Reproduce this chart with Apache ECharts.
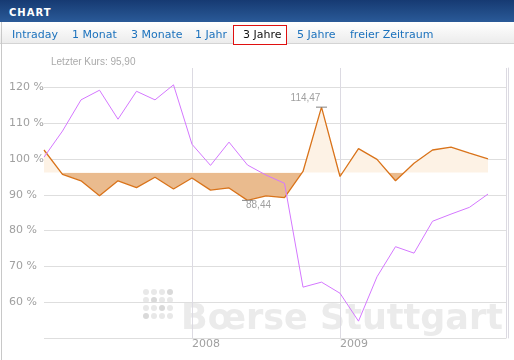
<!DOCTYPE html>
<html>
<head>
<meta charset="utf-8">
<script src="https://cdn.jsdelivr.net/npm/echarts@6/dist/echarts.min.js"></script>
<style>
  html, body { margin:0; padding:0; background:#fff; }
  #wrap { position:relative; width:514px; height:360px; overflow:hidden; }
  #chart { position:absolute; left:0; top:0; width:514px; height:360px; }
  #hdr { position:absolute; left:0; top:0; width:514px; height:22px;
         background:linear-gradient(to bottom, #163a72, #2a5a98); }
  #hdr span { position:absolute; left:9px; top:7px; color:#fff; font:bold 10px "DejaVu Sans"; letter-spacing:1px; }
  #tabs { position:absolute; left:0; top:22px; width:514px; height:21px;
          background:linear-gradient(to bottom, #ffffff, #ececec); border-bottom:1px solid #d4d4d4; }
  #tabs span { position:absolute; top:6px; font:11px "DejaVu Sans"; color:#1c72bd; white-space:nowrap; }
  #tabs span.sel { color:#111; }
  #selbox { position:absolute; left:233px; top:25px; width:52px; height:18px; border:1px solid #e01010; background:#fff; }
  #lb { position:absolute; left:1px; top:22px; width:1px; height:338px; background:#c8c8c8; }
</style>
</head>
<body>
<div id="wrap">
  <div id="chart"></div>
  <div id="hdr"><span>CHART</span></div>
  <div id="tabs"></div>
  <div id="lb"></div>
</div>
<script>
// ---- data ----
const categories = ['01.01.2007','15.02.2007','01.04.2007','15.05.2007','01.07.2007','15.08.2007','01.10.2007','15.11.2007',
  '01.01.2008','15.02.2008','01.04.2008','15.05.2008','01.07.2008','15.08.2008','01.10.2008','15.11.2008',
  '01.01.2009','15.02.2009','01.04.2009','15.05.2009','01.07.2009','15.08.2009','01.10.2009','15.11.2009',
  '01.01.2010','15.02.2010'];
const yearLabels = {'01.01.2008':'2008','01.01.2009':'2009'};
const stockValues = [102.5, 95.7, 93.9, 89.7, 93.9, 92.0, 94.9, 91.6, 94.7, 91.3, 91.9, 88.44, 89.7, 89.2, 96.5, 114.47, 95.1, 102.9, 99.9, 93.9, 98.8, 102.5, 103.3, 101.6, 100.0];
const indexValues = [100.5, 107.8, 116.5, 119.2, 111.1, 118.9, 116.5, 120.7, 104.1, 98.2, 104.7, 98.3, 95.5, 93.2, 64.2, 65.6, 62.5, 54.7, 67.1, 75.5, 73.7, 82.6, 84.6, 86.5, 90.2];
const baseLevel = 96.2;
const yTicks = [60, 70, 80, 90, 100, 110, 120];
const lastPrice = 'Letzter Kurs: 95,90';
const tabNames = ['Intraday','1 Monat','3 Monate','1 Jahr','3 Jahre','5 Jahre','freier Zeitraum'];
const selectedTab = '3 Jahre';

// ---- header tabs ----
const tabX = [12, 72, 131, 195, 243, 297, 350];
const tabsEl = document.getElementById('tabs');
const box = document.createElement('div'); box.id = 'selbox'; box.style.top = '3px'; tabsEl.appendChild(box);
tabNames.forEach((t, i) => {
  const s = document.createElement('span');
  s.textContent = t; s.style.left = tabX[i] + 'px';
  if (t === selectedTab) s.className = 'sel';
  tabsEl.appendChild(s);
});

// ---- chart ----
const chart = echarts.init(document.getElementById('chart'), null, {renderer: 'canvas'});
const splitIdx = categories.map((c, i) => (yearLabels[c] || i === categories.length - 1) ? i : -1).filter(i => i >= 0);
const yMin = 50, yMax = 125.4;
const gridColors = [];
for (let v = yMin; v <= yMax; v += 10) gridColors.push('#dedede');
gridColors.push('rgba(0,0,0,0)');

const dots = [];
const dark = {'0,3':1,'1,1':1,'2,2':1,'3,0':1};
for (let r = 0; r < 4; r++) for (let c = 0; c < 4; c++) {
  dots.push({type:'circle', z:-1, silent:true, shape:{cx:146 + c*8, cy:292 + r*8, r:3},
    style:{fill: dark[r+','+c] ? '#d9d9d9' : '#e8e8e8'}});
}

const fmt = v => v.toFixed(2).replace('.', ',');

chart.setOption({
  animation: false,
  title: { text: lastPrice, left: 46, top: 52,
    textStyle: { fontSize: 10, fontWeight: 'normal', color: '#aaaaaa', fontFamily: 'Liberation Sans, Arial' } },
  grid: { left: 44, right: 7.5, top: 68, bottom: 22, containLabel: false },
  graphic: [
    ...dots,
    { type:'text', z:-1, silent:true, left:181, top:302,
      style:{ text:'Bœrse Stuttgart', font:'bold 35px "DejaVu Sans"', fill:'#ebebeb' } }
  ],
  visualMap: {
    show: false, type: 'piecewise', seriesIndex: 0, dimension: 1,
    pieces: [ { gte: 40, lt: baseLevel, color: '#eabb8e' }, { gte: baseLevel, lte: 140, color: '#fdf2e5' } ]
  },
  xAxis: {
    type: 'category', data: categories, boundaryGap: false,
    axisLine: { show: false }, axisTick: { show: false },
    axisLabel: {
      interval: (i, v) => !!yearLabels[v],
      formatter: v => yearLabels[v] || '',
      align: 'left', margin: 1, color: '#a0a0a0', fontSize: 11, fontFamily: 'DejaVu Sans'
    },
    splitLine: { show: true, interval: (i) => splitIdx.indexOf(i) >= 0, lineStyle: { color: '#dcdae2', width: 1 } }
  },
  yAxis: [{
    type: 'value', min: yMin, max: yMax, interval: 10,
    axisLine: { show: false }, axisTick: { show: false },
    axisLabel: { formatter: v => yTicks.indexOf(v) >= 0 ? v + ' %' : '', align: 'left', margin: 35,
      color: '#a0a0a0', fontSize: 11, fontFamily: 'DejaVu Sans' },
    splitLine: { lineStyle: { color: gridColors, width: 1 } }
  }, {
    type: 'value', min: yMin, max: yMax, interval: 10, position: 'right', offset: 2,
    axisLine: { show: true, lineStyle: { color: '#dcdae2' } }, axisTick: { show: false },
    axisLabel: { show: false }, splitLine: { show: false }
  }],
  series: [{
    type: 'line', data: stockValues, yAxisIndex: 0, showSymbol: false, symbol: 'none', z: 2,
    lineStyle: { color: '#d9731a', width: 1.3 },
    itemStyle: { color: '#d9731a' },
    areaStyle: { origin: baseLevel, opacity: 1 },
    markPoint: {
      symbol: 'rect', symbolSize: [11, 1], itemStyle: { color: '#808080' }, silent: true,
      label: { formatter: p => fmt(p.value), color: '#a0a0a0', fontSize: 10, fontFamily: 'Liberation Sans, Arial' },
      data: [
        { type: 'max', valueDim: 'y', label: { position: 'top', distance: 3, offset: [-16, 0] } },
        { type: 'min', valueDim: 'y', label: { position: 'bottom', distance: 0, offset: [11, -1] } }
      ]
    }
  }, {
    type: 'line', data: indexValues, yAxisIndex: 0, showSymbol: false, symbol: 'none', z: 3,
    lineStyle: { color: '#d477ff', width: 1 }, itemStyle: { color: '#d477ff' }
  }]
});
</script>
</body>
</html>
